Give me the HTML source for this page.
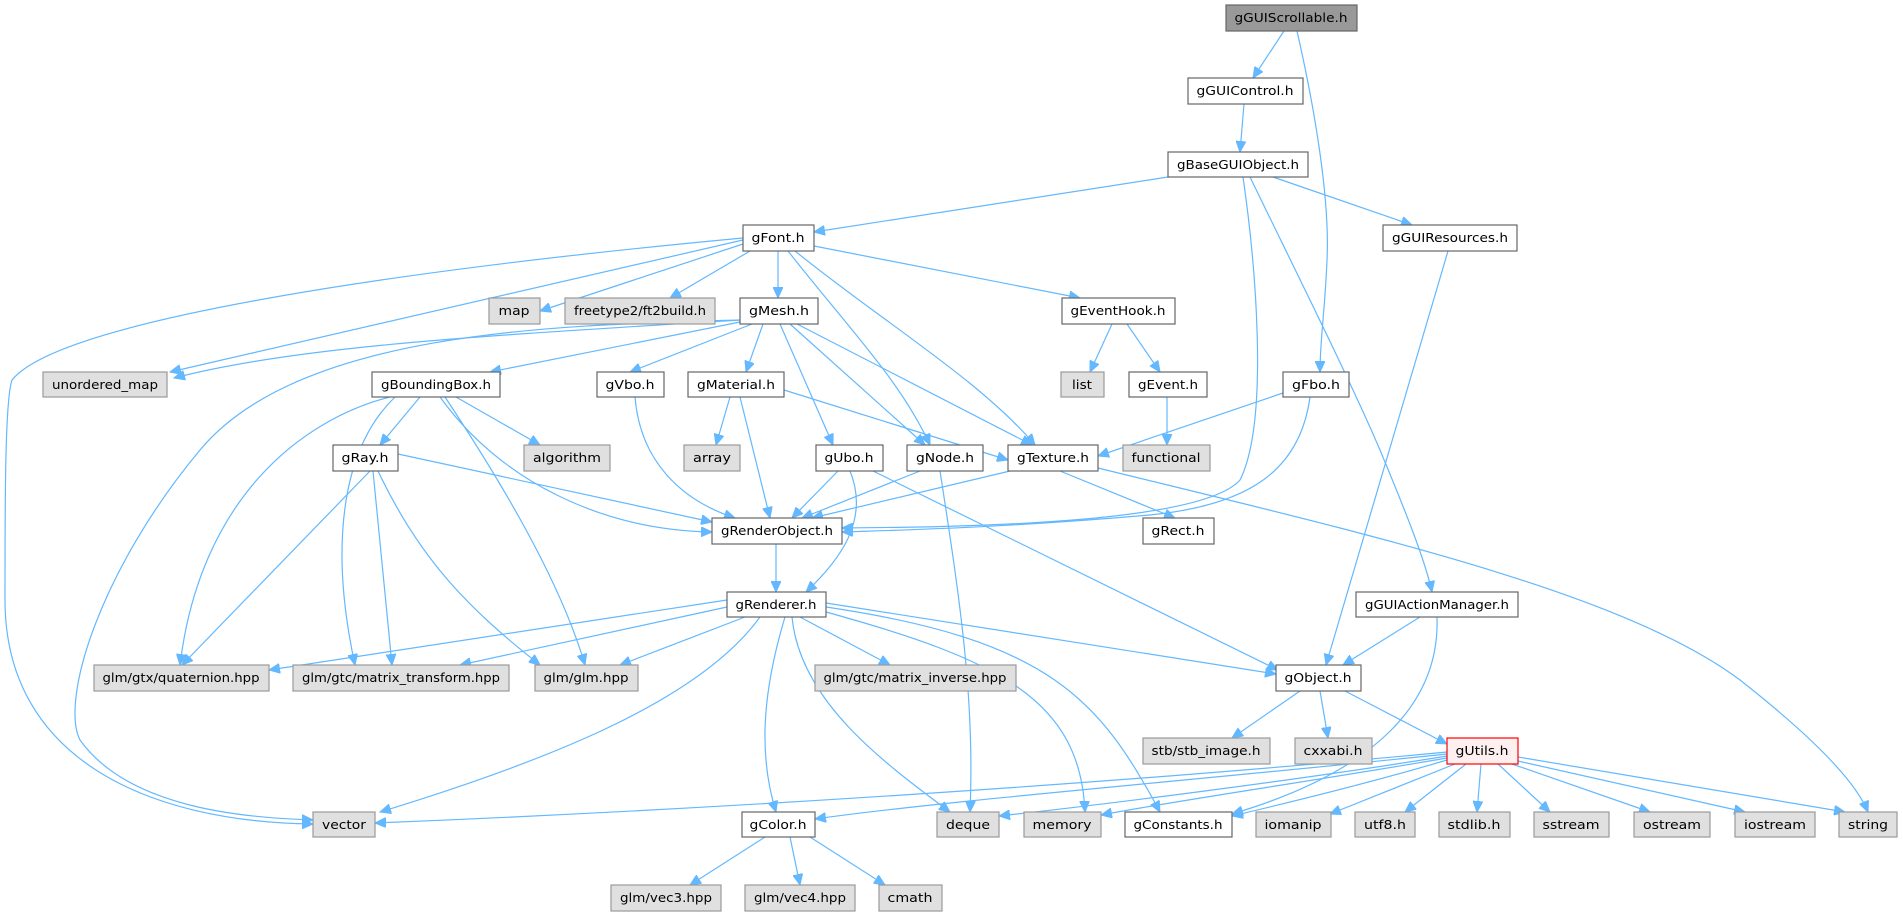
<!DOCTYPE html>
<html><head><meta charset="utf-8"><style>
html,body{margin:0;padding:0;background:#fff;width:1903px;height:916px;overflow:hidden}
svg text{font-family:"DejaVu Sans","Liberation Sans",sans-serif;font-size:12px;fill:#000;text-anchor:middle}
.e{fill:none;stroke:#63b8ff;stroke-width:1.2;marker-end:url(#a)}
.n{fill:#fff;stroke:#666;stroke-width:1.2}
.g{fill:#e0e0e0;stroke:#999;stroke-width:1.2}
</style></head><body>
<svg width="1903" height="916" viewBox="0 0 1903 916" xmlns="http://www.w3.org/2000/svg">
<defs><marker id="a" markerUnits="userSpaceOnUse" markerWidth="12" markerHeight="10" refX="11" refY="5" orient="auto"><path d="M0,0 L11,5 L0,10 z" fill="#63b8ff" stroke="#63b8ff"/></marker></defs>
<g>
<path class="e" d="M1284,31 L1253,78"/>
<path class="e" d="M1297,31 C1315,110 1330,200 1327,260 C1325,310 1320,340 1320,372"/>
<path class="e" d="M1244,104 L1240,152"/>
<path class="e" d="M1168,177 L814,232"/>
<path class="e" d="M1273,177 L1412,225"/>
<path class="e" d="M1243,177 C1255,260 1270,420 1240,480 C1200,525 950,527 842,528"/>
<path class="e" d="M1250,177 C1300,280 1350,380 1380,450 C1405,510 1425,560 1432,592"/>
<path class="e" d="M1448,251 L1326,665"/>
<path class="e" d="M1420,617 L1343,665"/>
<path class="e" d="M1437,617 C1440,700 1380,770 1232,814"/>
<path class="e" d="M1300,691 L1232,738"/>
<path class="e" d="M1320,691 L1328,738"/>
<path class="e" d="M1345,691 L1447,744"/>
<path class="e" d="M1447,752 C1100,785 700,810 375,823"/>
<path class="e" d="M1447,754 C1200,780 950,800 815,819"/>
<path class="e" d="M1447,756 C1300,780 1100,805 999,816"/>
<path class="e" d="M1447,758 C1320,780 1180,800 1101,815"/>
<path class="e" d="M1447,760 C1380,780 1300,800 1232,816"/>
<path class="e" d="M1455,764 L1330,814"/>
<path class="e" d="M1466,764 L1405,812"/>
<path class="e" d="M1481,764 L1477,812"/>
<path class="e" d="M1498,764 L1550,812"/>
<path class="e" d="M1512,764 L1650,812"/>
<path class="e" d="M1518,761 L1745,812"/>
<path class="e" d="M1518,757 L1845,812"/>
<path class="e" d="M743,238 C400,270 60,320 12,380 C5,400 5,500 5,600 C5,760 150,822 313,824"/>
<path class="e" d="M743,240 L170,372"/>
<path class="e" d="M743,244 L540,311"/>
<path class="e" d="M750,251 L670,298"/>
<path class="e" d="M778,251 L778,298"/>
<path class="e" d="M814,246 L1080,298"/>
<path class="e" d="M788,251 C850,330 900,380 930,445"/>
<path class="e" d="M795,251 C880,320 980,380 1035,445"/>
<path class="e" d="M740,320 C500,335 300,345 174,378"/>
<path class="e" d="M740,322 L490,372"/>
<path class="e" d="M740,320 C560,325 300,330 200,450 C100,570 60,700 80,740 C130,810 250,818 313,820"/>
<path class="e" d="M752,324 L630,372"/>
<path class="e" d="M763,324 L746,372"/>
<path class="e" d="M780,324 L833,445"/>
<path class="e" d="M790,324 L925,445"/>
<path class="e" d="M797,324 L1032,445"/>
<path class="e" d="M1112,324 L1090,372"/>
<path class="e" d="M1127,324 L1160,372"/>
<path class="e" d="M1167,397 L1167,445"/>
<path class="e" d="M1283,393 L1098,456"/>
<path class="e" d="M1310,397 C1300,470 1250,505 1150,515 C1000,528 900,530 842,532"/>
<path class="e" d="M420,397 L380,445"/>
<path class="e" d="M456,397 L540,445"/>
<path class="e" d="M440,397 C500,480 600,530 712,532"/>
<path class="e" d="M390,397 C300,420 200,500 180,665"/>
<path class="e" d="M395,397 C340,450 330,550 355,665"/>
<path class="e" d="M445,397 C500,480 560,580 585,665"/>
<path class="e" d="M635,397 C640,460 680,500 735,518"/>
<path class="e" d="M730,397 L716,445"/>
<path class="e" d="M740,397 L770,518"/>
<path class="e" d="M784,390 L1008,460"/>
<path class="e" d="M398,454 L712,522"/>
<path class="e" d="M370,471 L182,665"/>
<path class="e" d="M373,471 L392,665"/>
<path class="e" d="M378,471 C420,560 470,610 540,665"/>
<path class="e" d="M838,471 L792,518"/>
<path class="e" d="M850,471 C870,520 840,560 806,592"/>
<path class="e" d="M873,471 L1278,670"/>
<path class="e" d="M920,471 L802,518"/>
<path class="e" d="M940,471 C960,600 975,700 970,812"/>
<path class="e" d="M1010,471 L812,518"/>
<path class="e" d="M1060,471 L1175,518"/>
<path class="e" d="M1098,468 C1350,530 1620,590 1740,680 C1810,735 1855,780 1868,812"/>
<path class="e" d="M776,544 L776,592"/>
<path class="e" d="M727,600 L269,670"/>
<path class="e" d="M727,607 L460,665"/>
<path class="e" d="M745,617 L620,665"/>
<path class="e" d="M800,617 L890,665"/>
<path class="e" d="M760,617 C700,700 550,760 380,812"/>
<path class="e" d="M785,617 C760,700 760,760 776,812"/>
<path class="e" d="M792,617 C800,700 880,760 950,812"/>
<path class="e" d="M826,612 C1000,660 1080,700 1085,812"/>
<path class="e" d="M826,607 C1050,640 1100,700 1160,812"/>
<path class="e" d="M826,603 L1276,674"/>
<path class="e" d="M765,837 L690,885"/>
<path class="e" d="M790,837 L800,885"/>
<path class="e" d="M810,837 L885,885"/>
</g>
<g>
<rect x="1226" y="5" width="131" height="26" fill="#999" stroke="#666" stroke-width="1.2"/><text x="1291" y="22" textLength="113" lengthAdjust="spacingAndGlyphs">gGUIScrollable.h</text>
<rect class="n" x="1188" y="78" width="115" height="26"/><text x="1245" y="95" textLength="97" lengthAdjust="spacingAndGlyphs">gGUIControl.h</text>
<rect class="n" x="1168" y="152" width="140" height="25"/><text x="1238" y="169" textLength="122" lengthAdjust="spacingAndGlyphs">gBaseGUIObject.h</text>
<rect class="n" x="743" y="225" width="71" height="26"/><text x="778" y="242" textLength="53" lengthAdjust="spacingAndGlyphs">gFont.h</text>
<rect class="n" x="1383" y="225" width="134" height="26"/><text x="1450" y="242" textLength="116" lengthAdjust="spacingAndGlyphs">gGUIResources.h</text>
<rect class="g" x="489" y="298" width="51" height="26"/><text x="514" y="315" textLength="31" lengthAdjust="spacingAndGlyphs">map</text>
<rect class="g" x="565" y="298" width="150" height="26"/><text x="640" y="315" textLength="132" lengthAdjust="spacingAndGlyphs">freetype2/ft2build.h</text>
<rect class="n" x="740" y="298" width="78" height="26"/><text x="779" y="315" textLength="60" lengthAdjust="spacingAndGlyphs">gMesh.h</text>
<rect class="n" x="1062" y="298" width="113" height="26"/><text x="1118" y="315" textLength="95" lengthAdjust="spacingAndGlyphs">gEventHook.h</text>
<rect class="g" x="43" y="372" width="124" height="25"/><text x="105" y="389" textLength="106" lengthAdjust="spacingAndGlyphs">unordered_map</text>
<rect class="n" x="372" y="372" width="128" height="25"/><text x="436" y="389" textLength="110" lengthAdjust="spacingAndGlyphs">gBoundingBox.h</text>
<rect class="n" x="597" y="372" width="67" height="25"/><text x="630" y="389" textLength="49" lengthAdjust="spacingAndGlyphs">gVbo.h</text>
<rect class="n" x="688" y="372" width="96" height="25"/><text x="736" y="389" textLength="78" lengthAdjust="spacingAndGlyphs">gMaterial.h</text>
<rect class="g" x="1061" y="372" width="43" height="25"/><text x="1082" y="389" textLength="20" lengthAdjust="spacingAndGlyphs">list</text>
<rect class="n" x="1129" y="372" width="78" height="25"/><text x="1168" y="389" textLength="60" lengthAdjust="spacingAndGlyphs">gEvent.h</text>
<rect class="n" x="1283" y="372" width="66" height="25"/><text x="1316" y="389" textLength="48" lengthAdjust="spacingAndGlyphs">gFbo.h</text>
<rect class="n" x="333" y="445" width="65" height="26"/><text x="365" y="462" textLength="47" lengthAdjust="spacingAndGlyphs">gRay.h</text>
<rect class="g" x="524" y="445" width="86" height="26"/><text x="567" y="462" textLength="68" lengthAdjust="spacingAndGlyphs">algorithm</text>
<rect class="g" x="684" y="445" width="56" height="26"/><text x="712" y="462" textLength="38" lengthAdjust="spacingAndGlyphs">array</text>
<rect class="n" x="816" y="445" width="67" height="26"/><text x="849" y="462" textLength="49" lengthAdjust="spacingAndGlyphs">gUbo.h</text>
<rect class="n" x="907" y="445" width="76" height="26"/><text x="945" y="462" textLength="58" lengthAdjust="spacingAndGlyphs">gNode.h</text>
<rect class="n" x="1008" y="445" width="90" height="26"/><text x="1053" y="462" textLength="72" lengthAdjust="spacingAndGlyphs">gTexture.h</text>
<rect class="g" x="1123" y="445" width="87" height="26"/><text x="1166" y="462" textLength="69" lengthAdjust="spacingAndGlyphs">functional</text>
<rect class="n" x="712" y="518" width="130" height="26"/><text x="777" y="535" textLength="112" lengthAdjust="spacingAndGlyphs">gRenderObject.h</text>
<rect class="n" x="1143" y="518" width="71" height="26"/><text x="1178" y="535" textLength="53" lengthAdjust="spacingAndGlyphs">gRect.h</text>
<rect class="n" x="727" y="592" width="99" height="25"/><text x="776" y="609" textLength="81" lengthAdjust="spacingAndGlyphs">gRenderer.h</text>
<rect class="n" x="1356" y="592" width="162" height="25"/><text x="1437" y="609" textLength="144" lengthAdjust="spacingAndGlyphs">gGUIActionManager.h</text>
<rect class="g" x="94" y="665" width="175" height="26"/><text x="181" y="682" textLength="157" lengthAdjust="spacingAndGlyphs">glm/gtx/quaternion.hpp</text>
<rect class="g" x="293" y="665" width="216" height="26"/><text x="401" y="682" textLength="198" lengthAdjust="spacingAndGlyphs">glm/gtc/matrix_transform.hpp</text>
<rect class="g" x="535" y="665" width="103" height="26"/><text x="586" y="682" textLength="85" lengthAdjust="spacingAndGlyphs">glm/glm.hpp</text>
<rect class="g" x="815" y="665" width="201" height="26"/><text x="915" y="682" textLength="183" lengthAdjust="spacingAndGlyphs">glm/gtc/matrix_inverse.hpp</text>
<rect class="n" x="1276" y="665" width="85" height="26"/><text x="1318" y="682" textLength="67" lengthAdjust="spacingAndGlyphs">gObject.h</text>
<rect class="g" x="1143" y="738" width="127" height="26"/><text x="1206" y="755" textLength="109" lengthAdjust="spacingAndGlyphs">stb/stb_image.h</text>
<rect class="g" x="1295" y="738" width="77" height="26"/><text x="1333" y="755" textLength="59" lengthAdjust="spacingAndGlyphs">cxxabi.h</text>
<rect x="1447" y="738" width="71" height="26" fill="#fff0f0" stroke="#f00" stroke-width="1.2"/><text x="1482" y="755" textLength="53" lengthAdjust="spacingAndGlyphs">gUtils.h</text>
<rect class="g" x="313" y="812" width="62" height="25"/><text x="344" y="829" textLength="44" lengthAdjust="spacingAndGlyphs">vector</text>
<rect class="n" x="742" y="812" width="73" height="25"/><text x="778" y="829" textLength="57" lengthAdjust="spacingAndGlyphs">gColor.h</text>
<rect class="g" x="937" y="812" width="62" height="25"/><text x="968" y="829" textLength="44" lengthAdjust="spacingAndGlyphs">deque</text>
<rect class="g" x="1024" y="812" width="77" height="25"/><text x="1062" y="829" textLength="59" lengthAdjust="spacingAndGlyphs">memory</text>
<rect class="n" x="1125" y="812" width="107" height="25"/><text x="1178" y="829" textLength="89" lengthAdjust="spacingAndGlyphs">gConstants.h</text>
<rect class="g" x="1256" y="812" width="75" height="25"/><text x="1293" y="829" textLength="57" lengthAdjust="spacingAndGlyphs">iomanip</text>
<rect class="g" x="1355" y="812" width="60" height="25"/><text x="1385" y="829" textLength="42" lengthAdjust="spacingAndGlyphs">utf8.h</text>
<rect class="g" x="1439" y="812" width="71" height="25"/><text x="1474" y="829" textLength="53" lengthAdjust="spacingAndGlyphs">stdlib.h</text>
<rect class="g" x="1534" y="812" width="75" height="25"/><text x="1571" y="829" textLength="57" lengthAdjust="spacingAndGlyphs">sstream</text>
<rect class="g" x="1634" y="812" width="76" height="25"/><text x="1672" y="829" textLength="58" lengthAdjust="spacingAndGlyphs">ostream</text>
<rect class="g" x="1735" y="812" width="80" height="25"/><text x="1775" y="829" textLength="62" lengthAdjust="spacingAndGlyphs">iostream</text>
<rect class="g" x="1839" y="812" width="58" height="25"/><text x="1868" y="829" textLength="40" lengthAdjust="spacingAndGlyphs">string</text>
<rect class="g" x="611" y="885" width="110" height="26"/><text x="666" y="902" textLength="92" lengthAdjust="spacingAndGlyphs">glm/vec3.hpp</text>
<rect class="g" x="745" y="885" width="110" height="26"/><text x="800" y="902" textLength="92" lengthAdjust="spacingAndGlyphs">glm/vec4.hpp</text>
<rect class="g" x="879" y="885" width="63" height="26"/><text x="910" y="902" textLength="45" lengthAdjust="spacingAndGlyphs">cmath</text>
</g>
</svg>
</body></html>
